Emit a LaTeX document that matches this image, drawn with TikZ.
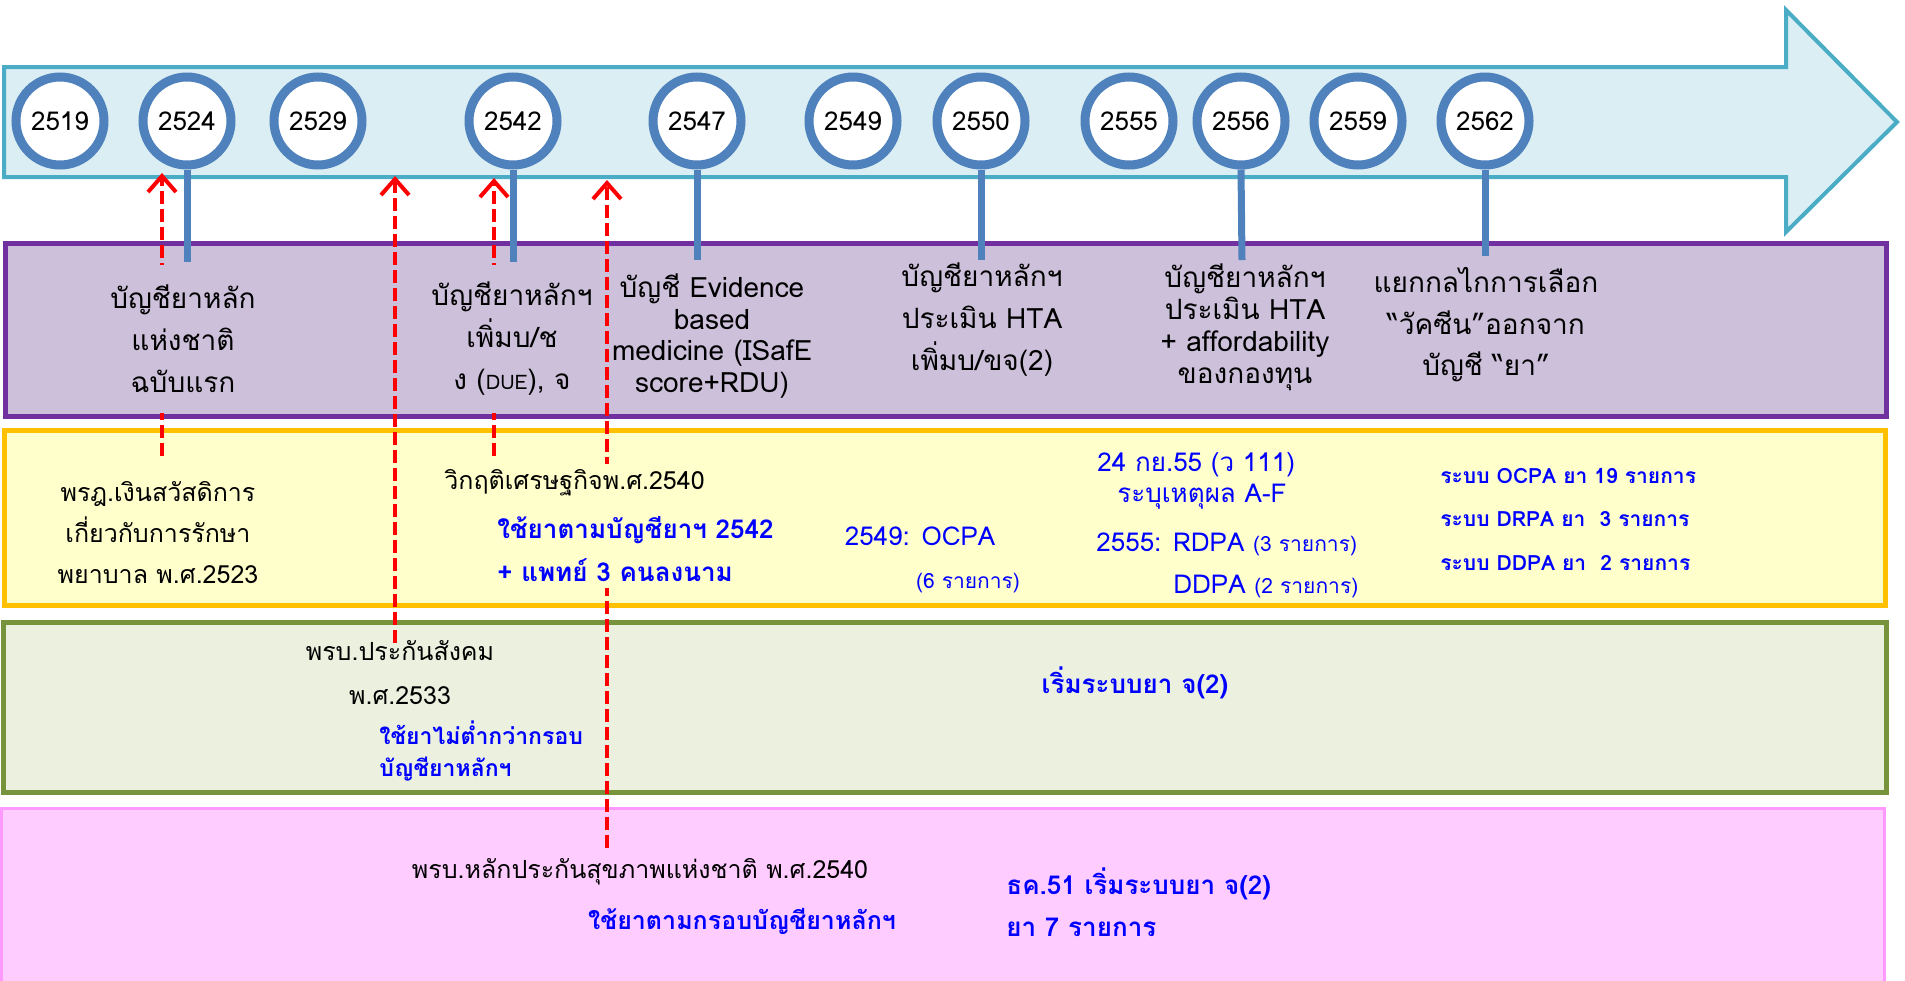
\documentclass[tikz,border=0pt]{standalone}
\usepackage{fontspec}
\setmainfont[Script=Thai]{Loma}
\usetikzlibrary{arrows.meta}

\definecolor{tealline}{HTML}{4BACC6}
\definecolor{tealfill}{HTML}{DAEEF3}
\definecolor{ringblue}{HTML}{4F81BD}
\definecolor{purpleline}{HTML}{7030A0}
\definecolor{purplefill}{HTML}{CCC0DA}
\definecolor{yellowline}{HTML}{FFC000}
\definecolor{yellowfill}{HTML}{FFFFCC}
\definecolor{greenline}{HTML}{77933C}
\definecolor{greenfill}{HTML}{EBF1DE}
\definecolor{pinkline}{HTML}{FF99FF}
\definecolor{pinkfill}{HTML}{FFCCFF}
\definecolor{noteblue}{HTML}{0000FF}

\newcommand\fsz[2]{\fontsize{#1}{#2}\selectfont}

\begin{document}
\begin{tikzpicture}[x=0.5pt,y=-0.5pt,
  timeline/.style={draw=tealline,fill=tealfill,line width=2pt,line join=miter},
  lane/.style n args={2}{draw=#1,fill=#2,line width=2.5pt},
  yearnode/.style={circle,draw=ringblue,fill=white,line width=4.5pt,minimum size=44pt,inner sep=0pt,font=\fsz{13}{15}},
  stem/.style={draw=ringblue,line width=3.5pt},
  redarrow/.style={draw=red,line width=2pt,dash pattern=on 6.5pt off 2.5pt,-{Straight Barb[length=8pt,width=14pt]}},
  event/.style={align=center,inner sep=0pt,font=\fsz{14}{21}},
  law/.style={inner sep=0pt,font=\fsz{12.5}{20.5}},
  note/.style={inner sep=0pt,text=noteblue,font=\bfseries\fsz{13}{21}},
  notelight/.style={inner sep=0pt,text=noteblue,font=\fsz{13}{21}},
  notesmall/.style={inner sep=0pt,text=noteblue,font=\bfseries\fsz{10.5}{12}},
]
\useasboundingbox (0,0) rectangle (1905,980);

% timeline arrow
\path[timeline] (4,67) -- (1786,67) -- (1786,10) -- (1897,122) -- (1786,232) -- (1786,177) -- (4,177) -- cycle;

% lanes
\path[lane={purpleline}{purplefill}] (5,243) rectangle (1886,416);
\path[lane={yellowline}{yellowfill}] (4,430) rectangle (1885,605);
\path[lane={greenline}{greenfill}] (3,622) rectangle (1886,792);
\path[lane={pinkline}{pinkfill},line width=1.5pt] (1,808) rectangle (1884,990);

% year markers
\node[yearnode] (y2519) at (60,121) {2519};
\node[yearnode] (y2524) at (187,121) {2524};
\node[yearnode] (y2529) at (318,121) {2529};
\node[yearnode] (y2542) at (513,121) {2542};
\node[yearnode] (y2547) at (697,121) {2547};
\node[yearnode] (y2549) at (853,121) {2549};
\node[yearnode] (y2550) at (981,121) {2550};
\node[yearnode] (y2555) at (1129,121) {2555};
\node[yearnode] (y2556) at (1241,121) {2556};
\node[yearnode] (y2559) at (1358,121) {2559};
\node[yearnode] (y2562) at (1485,121) {2562};

% stems into the list lane
\coordinate (e2524) at (187,262);
\coordinate (e2542) at (513,262);
\coordinate (e2547) at (697,260);
\coordinate (e2550) at (981,260);
\coordinate (e2556) at (1242,260);
\coordinate (e2562) at (1485,256);
\draw[stem] (y2524.south) -- (e2524);
\draw[stem] (y2542.south) -- (e2542);
\draw[stem] (y2547.south) -- (e2547);
\draw[stem] (y2550.south) -- (e2550);
\draw[stem] (y2556.south) -- (e2556);
\draw[stem] (y2562.south) -- (e2562);

% red dashed links from laws up to the timeline
\coordinate (a1tail) at (162,456);
\coordinate (a1tip) at (162,173);
\coordinate (a2tail) at (395,643);
\coordinate (a2tip) at (395,176);
\coordinate (a3tail) at (494,456);
\coordinate (a3tip) at (494,178);
\coordinate (a4tail) at (607,848);
\coordinate (a4tip) at (607,180);
\draw[redarrow] (a1tail) -- (a1tip);
\draw[redarrow] (a2tail) -- (a2tip);
\draw[redarrow] (a3tail) -- (a3tip);
\draw[redarrow] (a4tail) -- (a4tip);

% list lane
\node[event,fill=purplefill,minimum width=73pt,minimum height=74pt] (p1) at (183,339)
  {บัญชียาหลัก\\แห่งชาติ\\ฉบับแรก};
\node[event,fill=purplefill,minimum width=74pt,minimum height=74pt] (p2) at (512,339)
  {บัญชียาหลักฯ\\เพิ่มบ/ช\\ง ({\fsz{10}{12}DUE}), จ};
\node[event,font=\fsz{14}{15.75}] (p3) at (712,336)
  {บัญชี Evidence\\based\\medicine (ISafE\\score+RDU)};
\node[event] (p4) at (982,320)
  {บัญชียาหลักฯ\\ประเมิน HTA\\เพิ่มบ/ขจ(2)};
\node[event,font=\fsz{14}{16}] (p5) at (1245,327)
  {บัญชียาหลักฯ\\ประเมิน HTA\\+ affordability\\ของกองทุน};
\node[event,font=\fsz{14}{20.75}] (p6) at (1486,325)
  {แยกกลไกการเลือก\\“วัคซีน”ออกจาก\\บัญชี “ยา”};

% welfare lane
\node[law,align=center] (w1) at (158,533)
  {พรฎ.เงินสวัสดิการ\\เกี่ยวกับการรักษา\\พยาบาล พ.ศ.2523};
\node[law,align=left,fill=yellowfill,inner ysep=3pt,anchor=west] (w2) at (444,526)
  {วิกฤติเศรษฐกิจพ.ศ.2540\\[4pt]
   \hspace*{26.5pt}{\color{noteblue}\bfseries\fsz{13}{21.5}ใช้ยาตามบัญชียาฯ 2542}\\[1pt]
   \hspace*{26.5pt}{\color{noteblue}\bfseries\fsz{13}{21.5}+ แพทย์ 3 คนลงนาม}};
\node[notelight,anchor=base] (w3) at (920,545) {2549: OCPA};
\node[notelight,font=\fsz{10.5}{12},anchor=base] (w4) at (968,588) {(6 รายการ)};
\node[notelight,anchor=base west] (w5) at (1097,471) {24 กย.55 (ว 111)};
\node[notelight,anchor=base west] (w6) at (1117,502) {ระบุเหตุผล A-F};
\node[notelight,anchor=base west] (w7) at (1096,551) {2555: RDPA {\fsz{10.5}{12}(3 รายการ)}};
\node[notelight,anchor=base west] (w8) at (1173,593) {DDPA {\fsz{10.5}{12}(2 รายการ)}};
\node[notesmall,anchor=base west] (w9) at (1440,483) {ระบบ OCPA ยา 19 รายการ};
\node[notesmall,anchor=base west] (w10) at (1440,526) {ระบบ DRPA ยา\ \ 3 รายการ};
\node[notesmall,anchor=base west] (w11) at (1440,570) {ระบบ DDPA ยา\ \ 2 รายการ};

% social security lane
\node[law,anchor=base] (s1) at (400,660) {พรบ.ประกันสังคม};
\node[law,anchor=base] (s2) at (400,704) {พ.ศ.2533};
\node[note,align=left,anchor=west,font=\bfseries\fsz{11.5}{16}] (s3) at (379,751)
  {ใช้ยาไม่ต่ำกว่ากรอบ\\บัญชียาหลักฯ};
\node[note,anchor=base] (s4) at (1135,693) {เริ่มระบบยา จ(2)};

% universal coverage lane
\node[law,anchor=base] (u1) at (640,878) {พรบ.หลักประกันสุขภาพแห่งชาติ พ.ศ.2540};
\node[note,font=\bfseries\fsz{12.5}{21},anchor=base] (u2) at (742,929) {ใช้ยาตามกรอบบัญชียาหลักฯ};
\node[note,align=left,anchor=west] (u3) at (1006,902)
  {ธค.51 เริ่มระบบยา จ(2)\\ยา 7 รายการ};
\end{tikzpicture}
\end{document}
